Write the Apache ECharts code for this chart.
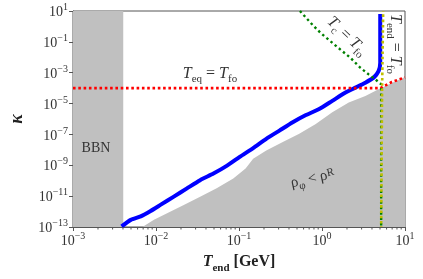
<!DOCTYPE html>
<html><head><meta charset="utf-8">
<script src="https://cdn.jsdelivr.net/npm/echarts@6/dist/echarts.min.js"></script>
<style>html,body{margin:0;padding:0;background:#fff}#c{width:423px;height:279px}</style>
</head><body><div id="c"></div>
<script>
// BBN excluded band (T_end range, full height)
const bbnT = [1e-3, 4.03e-3];
const bbnK = [10, 10];
// rho_phi < rho_R region upper boundary
const rhoT = [6.86e-3, 9.45e-3, 1.36e-2, 2.16e-2, 3.40e-2, 5.38e-2, 8.53e-2, 0.120, 0.148, 0.213, 0.337, 0.532, 0.841, 1.33, 2.10, 3.33, 4.80, 6.62, 10];
const rhoK = [1e-13, 2.9e-13, 7.9e-13, 2.7e-12, 9.3e-12, 3.2e-11, 1.4e-10, 6.1e-10, 2.7e-9, 9.2e-9, 3.2e-8, 1.09e-7, 4.8e-7, 2.7e-6, 1.18e-5, 3.1e-5, 8.4e-5, 1.9e-4, 5.2e-4];
// blue solid curve
const blueT = [3.85e-3, 4.97e-3, 6.54e-3, 8.61e-3, 1.13e-2, 1.64e-2, 2.36e-2, 3.40e-2, 4.92e-2, 7.10e-2, 0.102, 0.148, 0.213, 0.307, 0.444, 0.640, 0.923, 1.33, 1.92, 2.53, 3.33, 4.19, 4.80, 5.03, 5.03];
const blueK = [1.1e-13, 2.9e-13, 4.9e-13, 1.1e-12, 2.7e-12, 9.3e-12, 3.2e-11, 1.09e-10, 2.9e-10, 9.1e-10, 3.5e-9, 1.31e-8, 5.2e-8, 1.77e-7, 6.1e-7, 1.8e-6, 4.4e-6, 1.5e-5, 5.2e-5, 1.08e-4, 2.27e-4, 4.8e-4, 1.26e-3, 4.4e-3, 6.5];
// T_eq = T_fo (red dotted)
const eqT = [1e-3, 5.03, 6.93, 10];
const eqK = [1e-4, 1e-4, 2.5e-4, 5.0e-4];
// T_c = T_fo (green dotted)
const cT = [0.542, 0.769, 0.966, 1.27, 1.67, 2.20, 2.90, 3.65, 4.39, 5.16, 5.16];
const cK = [10, 1.26, 0.37, 0.107, 0.0313, 9.2e-3, 2.1e-3, 7.8e-4, 3.7e-4, 1.8e-4, 1e-13];
// T_end = T_fo (yellow dotted)
const endT = [5.46, 5.3, 5.16];
const endK = [10, 1e-4, 1e-13];
// axis ticks
const xTicks = [1e-3, 1e-2, 1e-1, 1, 10];
const yTicks = [1e-13, 1e-11, 1e-9, 1e-7, 1e-5, 1e-3, 1e-1, 10];
const minorTicks = [];
for (let k = -3; k <= 0; k++) for (let m = 2; m <= 9; m++) minorTicks.push(m * Math.pow(10, k));

const zip = (a, b) => a.map((v, i) => [v, b[i]]);
const SERIF = '"Liberation Serif", "DejaVu Serif", serif';
const expLabel = v => {
  const e = Math.round(Math.log10(v));
  return '{b|10}{s|' + (e < 0 ? '\u2212' + (-e) : e) + '}';
};
const tickRich = {
  b: {fontFamily: SERIF, fontSize: 14, color: '#333', verticalAlign: 'bottom', lineHeight: 17},
  s: {fontFamily: SERIF, fontSize: 10, color: '#333', verticalAlign: 'top', lineHeight: 17}
};
const GRAY = '#c0c0c0';
const lab = (fs, ss) => ({
  t: {fontFamily: SERIF, fontSize: fs, fontStyle: 'italic', fill: '#333', verticalAlign: 'top', lineHeight: fs + 3},
  s: {fontFamily: SERIF, fontSize: ss, fill: '#333', verticalAlign: 'bottom', lineHeight: fs + 3},
  m: {fontFamily: SERIF, fontSize: fs, fill: '#333', verticalAlign: 'top', lineHeight: fs + 3}
});

const chart = echarts.init(document.getElementById('c'));
chart.setOption({
  animation: false,
  grid: {left: 70, right: 18, top: 11, bottom: 50, show: true, borderColor: '#555', borderWidth: 1, backgroundColor: 'transparent'},
  xAxis: {
    type: 'log', logBase: 10, min: 1e-3, max: 10, interval: 1,
    axisLine: {lineStyle: {color: '#555'}},
    axisTick: {inside: false, length: 4, lineStyle: {color: '#555'}},
    splitLine: {show: false},
    axisLabel: {formatter: expLabel, rich: tickRich, margin: 4},
    name: '{t|T}{u|end}{n| [GeV]}', nameLocation: 'middle', nameGap: 27,
    nameTextStyle: {rich: {
      t: {fontFamily: SERIF, fontSize: 16, fontWeight: 'bold', fontStyle: 'italic', color: '#222', verticalAlign: 'top', lineHeight: 20},
      u: {fontFamily: SERIF, fontSize: 11, fontWeight: 'bold', color: '#222', verticalAlign: 'bottom', lineHeight: 20},
      n: {fontFamily: SERIF, fontSize: 16, fontWeight: 'bold', color: '#222', verticalAlign: 'top', lineHeight: 20}
    }}
  },
  yAxis: {
    type: 'log', logBase: 10, min: 1e-13, max: 10, interval: 2,
    axisLine: {lineStyle: {color: '#555'}},
    axisTick: {inside: false, length: 4, lineStyle: {color: '#555'}},
    splitLine: {show: false},
    axisLabel: {formatter: expLabel, rich: tickRich, margin: 5},
    name: '\u03ba', nameLocation: 'middle', nameGap: 47,
    nameTextStyle: {fontFamily: SERIF, fontSize: 18, fontWeight: 'bold', fontStyle: 'italic', color: '#222'}
  },
  series: [
    {type: 'line', data: zip(bbnT, bbnK), symbol: 'none', lineStyle: {width: 0}, areaStyle: {color: GRAY, opacity: 1, origin: 'start'}, z: 1},
    {type: 'line', data: zip(rhoT, rhoK), symbol: 'none', lineStyle: {width: 0}, areaStyle: {color: GRAY, opacity: 1, origin: 'start'}, z: 1},
    {type: 'line', data: zip(blueT, blueK), symbol: 'none', smooth: 0.2, lineStyle: {color: '#0000ff', width: 4, join: 'round'}, z: 3},
    {type: 'line', data: zip(eqT, eqK), symbol: 'none', lineStyle: {color: '#ff0000', width: 2.6, type: [2.6, 2.7]}, z: 4},
    {type: 'line', data: zip(cT, cK), symbol: 'none', lineStyle: {color: '#008000', width: 2.4, type: [2.4, 3.0]}, z: 4},
    {type: 'line', data: zip(endT, endK), symbol: 'none', lineStyle: {color: '#bfbf00', width: 2.6, type: [2.6, 2.7], dashOffset: 2}, z: 5},
    {type: 'custom', coordinateSystem: 'cartesian2d', silent: true, clip: false, z: 6,
      data: minorTicks.map(v => [v, 1e-13]),
      renderItem: (params, api) => {
        const p = api.coord([api.value(0), api.value(1)]);
        return {type: 'line', shape: {x1: p[0], y1: p[1], x2: p[0], y2: p[1] + 2.5}, style: {stroke: '#555', lineWidth: 1}};
      }}
  ],
  graphic: [
    {type: 'text', x: 96, y: 148, z: 10, style: {text: 'BBN', font: '14px ' + SERIF, fill: '#333', align: 'center', verticalAlign: 'middle'}},
    {type: 'text', x: 210, y: 75, z: 10, style: {text: '{t|T}{s|eq}{m| = }{t|T}{s|fo}', align: 'center', verticalAlign: 'middle', rich: lab(16, 11)}},
    {type: 'text', x: 346, y: 37, rotation: -0.76, z: 10, style: {text: '{t|T}{s|c}{m| = }{t|T}{s|fo}', align: 'center', verticalAlign: 'middle', rich: lab(16, 11)}},
    {type: 'text', x: 394, y: 44, rotation: -Math.PI / 2, z: 10, style: {text: '{t|T}{s|end}{m| = }{t|T}{s|fo}', align: 'center', verticalAlign: 'middle', rich: lab(16, 11)}},
    {type: 'text', x: 313, y: 180, rotation: 0.22, z: 10, style: {text: '{m|\u03c1}{s|\u03c6}{m| < \u03c1}{r|R}', align: 'center', verticalAlign: 'middle',
      rich: {s: {fontFamily: SERIF, fontSize: 11, fill: '#333', verticalAlign: 'bottom', lineHeight: 18},
             r: {fontFamily: SERIF, fontSize: 11, fill: '#333', verticalAlign: 'top', lineHeight: 18},
             m: {fontFamily: SERIF, fontSize: 15, fill: '#333', verticalAlign: 'top', lineHeight: 18}}}}
  ]
});
</script></body></html>
